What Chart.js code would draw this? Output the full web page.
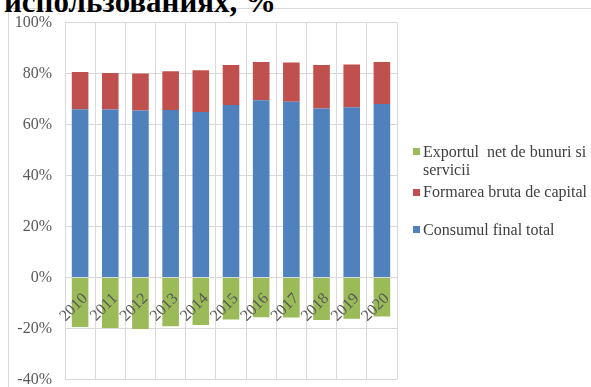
<!DOCTYPE html>
<html>
<head>
<meta charset="utf-8">
<script src="https://cdn.jsdelivr.net/npm/chart.js@4"></script>
<style>
  html, body { margin: 0; padding: 0; background: #fff; }
  #wrap { position: relative; width: 591px; height: 387px; overflow: hidden; }
  #frame { position: absolute; left: 8px; top: 8px; width: 600px; height: 400px; border: 1px solid #d9d9d9; box-sizing: border-box; }
  #title { position: absolute; left: 4px; top: -15px; font-family: "Liberation Serif", serif; font-weight: bold; font-size: 31px; color: #000; white-space: nowrap; line-height: 34px; }
  canvas { position: absolute; left: 0; top: 0; }
  .leg { position: absolute; left: 413px; font-family: "Liberation Serif", serif; font-size: 16px; color: #404040; line-height: 18px; }
  .leg .box { position: absolute; left: 0; width: 7px; height: 7px; }
  .leg .txt { position: absolute; left: 10px; white-space: nowrap; }
</style>
</head>
<body>
<div id="wrap">
  <div id="frame"></div>
  <div id="title">использованиях, %</div>
  <canvas id="c" width="591" height="402"></canvas>
  <div id="legend"></div>
</div>
<script>
const categories = ["2010","2011","2012","2013","2014","2015","2016","2017","2018","2019","2020"];
const consumFinal = [66.0, 65.9, 65.5, 65.7, 64.9, 67.7, 69.5, 68.9, 66.3, 66.8, 68.1];
const formareaCapital = [14.6, 14.3, 14.5, 15.2, 16.4, 15.7, 15.0, 15.4, 17.1, 16.8, 16.4];
const exportNet = [-19.4, -19.8, -20.2, -19.1, -18.7, -16.5, -15.6, -15.7, -16.7, -16.2, -15.3];
const seriesNames = ["Consumul final total", "Formarea bruta de capital", "Exportul  net de bunuri si servicii"];
const colors = ["#4f81bd", "#c0504d", "#9bbb59"];

// HTML legend (order as in reference: top to bottom)
const legendItems = [
  { name: "Exportul  net de bunuri si<br>servicii", color: colors[2], top: 142.5 },
  { name: seriesNames[1], color: colors[1], top: 183 },
  { name: seriesNames[0], color: colors[0], top: 220.5 }
];
const legEl = document.getElementById('legend');
legendItems.forEach(it => {
  const d = document.createElement('div');
  d.className = 'leg';
  d.style.top = it.top + 'px';
  d.innerHTML = '<div class="box" style="top:5.5px;background:' + it.color + '"></div><div class="txt">' + it.name.replace(/  /g, '&nbsp; ') + '</div>';
  legEl.appendChild(d);
});

const serif = "'Liberation Serif', 'Times New Roman', serif";
new Chart(document.getElementById('c'), {
  type: 'bar',
  data: {
    labels: categories,
    datasets: [
      { label: seriesNames[0], data: consumFinal, backgroundColor: colors[0] },
      { label: seriesNames[1], data: formareaCapital, backgroundColor: colors[1] },
      { label: seriesNames[2], data: exportNet, backgroundColor: colors[2] }
    ]
  },
  options: {
    responsive: false,
    animation: false,
    layout: { padding: { left: 0, top: 21, right: 194, bottom: 9 } },
    datasets: { bar: { categoryPercentage: 1.0, barPercentage: 0.55 } },
    plugins: { legend: { display: false }, tooltip: { enabled: false } },
    scales: {
      x: {
        stacked: true,
        position: { y: 0 },
        afterFit: (s) => { s.height = 0; },
        grid: { color: '#d9d9d9', drawTicks: false, offset: true },
        border: { color: '#d9d9d9' },
        ticks: {
          z: 1,
          autoSkip: false,
          font: { family: serif, size: 16 },
          color: '#595959',
          minRotation: 45, maxRotation: 45,
          padding: 12,
          labelOffset: 5
        }
      },
      y: {
        stacked: true,
        min: -40, max: 100,
        afterFit: (s) => { s.width = 65; },
        grid: { color: '#d9d9d9', drawTicks: false },
        border: { display: false },
        ticks: {
          stepSize: 20,
          padding: 13,
          font: { family: serif, size: 16 },
          color: '#595959',
          callback: (v) => v + '%'
        }
      }
    }
  }
});
</script>
</body>
</html>
